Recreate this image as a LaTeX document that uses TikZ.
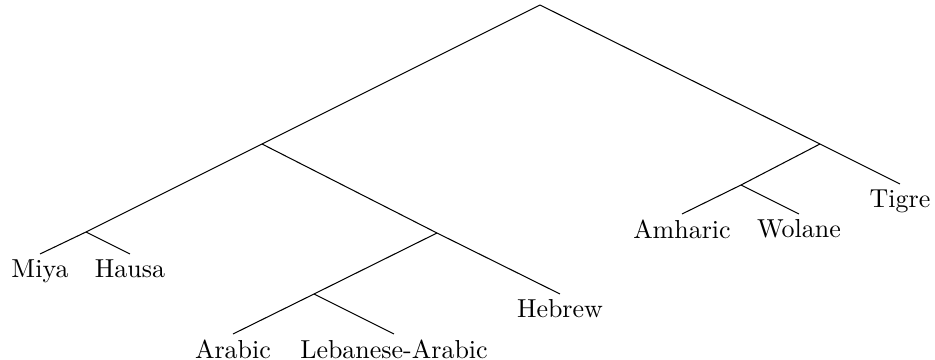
\documentclass[tikz,border=0pt]{standalone}
\usepackage{tikz}

\begin{document}
\begin{tikzpicture}[x=0.385pt,y=-0.385pt,
  leaf/.style={anchor=north,inner sep=2pt},
  branch/.style={draw=black,line width=0.4pt}]
  \useasboundingbox (0,0) rectangle (935,360);
  \coordinate (root) at (540,5);
  \coordinate (semleft) at (262,144);
  \coordinate (chadic) at (86,232);
  \coordinate (central) at (437,233);
  \coordinate (arabgrp) at (314,294);
  \coordinate (ethio) at (820,144);
  \coordinate (southeth) at (741,185);
  \node[leaf] (miya) at (40,254) {Miya};
  \node[leaf] (hausa) at (130,254) {Hausa};
  \node[leaf] (arabic) at (233,334) {Arabic};
  \node[leaf] (lebarabic) at (394,334) {Lebanese-Arabic};
  \node[leaf] (hebrew) at (560,294) {Hebrew};
  \node[leaf] (amharic) at (682,214) {Amharic};
  \node[leaf] (wolane) at (799,214) {Wolane};
  \node[leaf] (tigre) at (900,184) {Tigre};
  \draw[branch] (root) -- (semleft) -- (chadic) -- (miya.north);
  \draw[branch] (chadic) -- (hausa.north);
  \draw[branch] (semleft) -- (central) -- (hebrew.north);
  \draw[branch] (central) -- (arabgrp) -- (arabic.north);
  \draw[branch] (arabgrp) -- (lebarabic.north);
  \draw[branch] (root) -- (ethio) -- (tigre.north);
  \draw[branch] (ethio) -- (southeth) -- (amharic.north);
  \draw[branch] (southeth) -- (wolane.north);
\end{tikzpicture}
\end{document}
